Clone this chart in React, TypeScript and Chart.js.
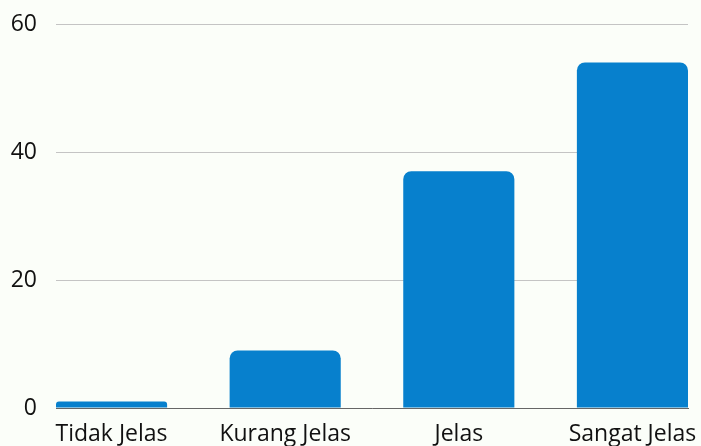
import React, { useEffect, useRef } from "react";
import { Chart, registerables } from "chart.js";

Chart.register(...registerables);

const categories = ["Tidak Jelas", "Kurang Jelas", "Jelas", "Sangat Jelas"];
const values = [1, 9, 37, 54];
const yTicks = [0, 20, 40, 60];

export default function App() {
  const ref = useRef<HTMLCanvasElement | null>(null);
  useEffect(() => {
    if (!ref.current) return;
    const font = { family: "Open Sans", size: 23, weight: "500" as any };
    const chart = new Chart(ref.current, {
      type: "bar",
      data: {
        datasets: [
          {
            data: values.map((v, i) => ({ x: i, y: v })),
            backgroundColor: "#0780cd",
            borderRadius: 8,
            categoryPercentage: 1,
            barPercentage: 0.64,
          },
        ],
      },
      options: {
        animation: false,
        responsive: false,
        maintainAspectRatio: false,
        layout: { padding: { top: 24, right: 13, left: 0, bottom: 0 } },
        plugins: { legend: { display: false }, tooltip: { enabled: false } },
        scales: {
          x: {
            type: "linear",
            offset: false,
            min: -0.32,
            max: 3.32,
            grid: { display: false, drawTicks: false },
            border: { display: true, color: "#666666", width: 1 },
            afterBuildTicks: (s: any) => {
              s.ticks = categories.map((_, i) => ({ value: i }));
            },
            afterFit: (s: any) => {
              s.height = 38;
              s.paddingLeft = 0;
              s.paddingRight = 0;
            },
            ticks: {
              autoSkip: false,
              maxRotation: 0,
              padding: 13,
              color: "#111111",
              font,
              callback: (v: any) => categories[v as number] ?? "",
            },
          },
          y: {
            min: 0,
            max: 60,
            afterBuildTicks: (s: any) => {
              s.ticks = yTicks.map((v) => ({ value: v }));
            },
            afterFit: (s: any) => {
              s.width = 56;
              s.paddingTop = 0;
              s.paddingBottom = 0;
            },
            grid: { color: "#c4c4c4", lineWidth: 1, drawTicks: false },
            border: { display: false },
            ticks: { padding: 19, color: "#111111", font },
          },
        },
      },
    });
    return () => chart.destroy();
  }, []);
  return (
    <div style={{ position: "fixed", left: 0, top: 0, width: 701, height: 446, background: "#fbfef9" }}>
      <canvas ref={ref} width={701} height={446} style={{ display: "block" }} />
    </div>
  );
}
